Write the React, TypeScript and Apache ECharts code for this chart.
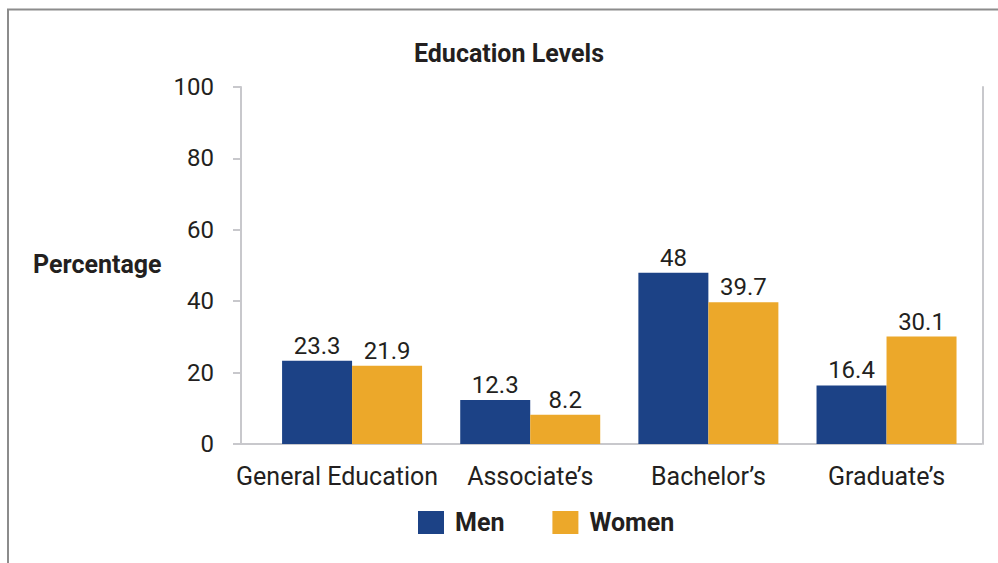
import React, { useEffect, useRef } from "react";
import * as echarts from "echarts";

const categories = ["General Education", "Associate’s", "Bachelor’s", "Graduate’s"];
const menValues = [23.3, 12.3, 48, 16.4];
const womenValues = [21.9, 8.2, 39.7, 30.1];
const yTicks = { min: 0, max: 100, interval: 20 };

const FONT = "Roboto, 'Noto Sans', sans-serif";
const TEXT = "#231f20";
const AXIS = "#c8c8cc";

export default function App() {
  const ref = useRef<HTMLDivElement>(null);
  useEffect(() => {
    if (!ref.current) return;
    const chart = echarts.init(ref.current, null, { renderer: "svg" });
    chart.setOption({
      animation: false,
      backgroundColor: "#ffffff",
      textStyle: { fontFamily: FONT },
      title: {
        text: "Education Levels",
        left: 509,
        textAlign: "center",
        top: 41,
        padding: 0,
        textStyle: { fontFamily: FONT, fontWeight: "bold", fontSize: 25, color: TEXT },
      },
      legend: {
        data: ["Men", "Women"],
        left: 418,
        top: 510,
        padding: 0,
        itemWidth: 26,
        itemHeight: 23,
        itemGap: 48,
        icon: "rect",
        textStyle: { fontFamily: FONT, fontWeight: "bold", fontSize: 25, color: TEXT, padding: [0, 0, 0, 6] },
      },
      grid: { left: 263, right: 22.4, top: 87, bottom: 563 - 444, containLabel: false },
      xAxis: {
        type: "category",
        data: categories.map((c, i) =>
          i === 0 ? { value: c, textStyle: { padding: [0, 30, 0, 0] } } : c
        ),
        axisLine: { show: false },
        axisTick: { show: false },
        axisLabel: { color: TEXT, fontSize: 25, fontFamily: FONT, margin: 20, interval: 0 },
      },
      yAxis: [
        {
          type: "value",
          position: "left",
          offset: 22,
          min: yTicks.min,
          max: yTicks.max,
          interval: yTicks.interval,
          splitLine: { show: false },
          axisLine: { show: true, lineStyle: { color: AXIS, width: 2 } },
          axisTick: { show: true, length: 8, lineStyle: { color: AXIS, width: 2 } },
          axisLabel: { color: TEXT, fontSize: 24, fontFamily: FONT, margin: 27 },
        },
        {
          type: "value",
          position: "right",
          offset: 7,
          min: yTicks.min,
          max: yTicks.max,
          interval: yTicks.interval,
          splitLine: { show: false },
          axisLine: { show: true, lineStyle: { color: AXIS, width: 2 } },
          axisTick: { show: false },
          axisLabel: { show: false },
        },
      ],
      graphic: [
        {
          type: "rect",
          shape: { x: 8, y: 9.5, width: 1100, height: 700 },
          style: { fill: "none", stroke: "#8c8c8c", lineWidth: 2 },
          silent: true,
          z: -1,
        },
        {
          type: "line",
          shape: { x1: 233, y1: 444, x2: 982, y2: 444 },
          style: { stroke: AXIS, lineWidth: 2 },
          silent: true,
        },
        {
          type: "text",
          left: 33,
          top: 252,
          style: { text: "Percentage", font: `bold 25px ${FONT}`, fill: TEXT },
        },
      ],
      series: [
        {
          name: "Men",
          type: "bar",
          data: menValues,
          barWidth: 70,
          barGap: "0%",
          itemStyle: { color: "#1c4286" },
          label: { show: true, position: "top", distance: 3, color: TEXT, fontSize: 24, fontFamily: FONT },
        },
        {
          name: "Women",
          type: "bar",
          data: womenValues,
          barWidth: 70,
          barGap: "0%",
          itemStyle: { color: "#eca82a" },
          label: { show: true, position: "top", distance: 3, color: TEXT, fontSize: 24, fontFamily: FONT },
        },
      ],
    });
    return () => chart.dispose();
  }, []);
  return (
    <div
      ref={ref}
      style={{ position: "fixed", left: 0, top: 0, width: 998, height: 563 }}
    />
  );
}
